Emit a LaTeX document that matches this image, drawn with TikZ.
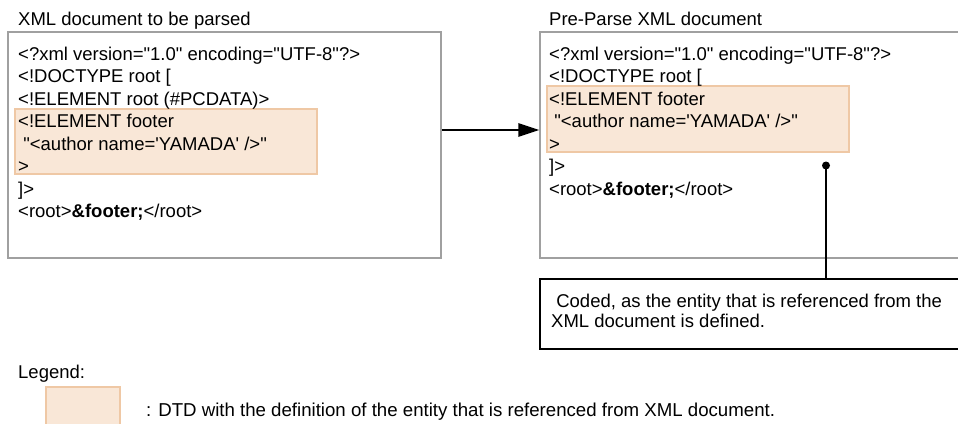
\documentclass[tikz,border=0pt]{standalone}
\usepackage{fontspec}
\newfontfamily\af{Liberation Sans}
\usetikzlibrary{arrows.meta}
\definecolor{boxgray}{RGB}{160,160,160}
\definecolor{dtdfill}{RGB}{249,231,215}
\definecolor{dtdline}{RGB}{239,200,165}
\begin{document}
\begin{tikzpicture}[x=1pt,y=-1pt,
  txt/.style={anchor=base west,inner sep=0pt,font=\af\fontsize{18.5}{22}\selectfont},
  docbox/.style={draw=boxgray,line width=1.5pt,fill=white,rectangle,inner sep=0pt},
  dtdbox/.style={draw=dtdline,line width=1.2pt,fill=dtdfill,rectangle,inner sep=0pt},
  notebox/.style={draw=black,line width=1.3pt,fill=white,rectangle,inner sep=0pt}]
\useasboundingbox (0,0) rectangle (958,423);
\clip (0,0) rectangle (958,423);
% titles
\node[txt] (t1) at (18,25) {XML document to be parsed};
\node[txt] (t2) at (549,25) {Pre-Parse XML document};
% document boxes
\node[docbox,minimum width=433pt,minimum height=226pt] (lbox) at (224.5,145) {};
\node[docbox,minimum width=422pt,minimum height=226pt] (rbox) at (751,145) {};
% DTD highlight boxes
\node[dtdbox,minimum width=302pt,minimum height=65pt] (ldtd) at (166,141.5) {};
\node[dtdbox,minimum width=302pt,minimum height=66pt] (rdtd) at (698,119) {};
% left document text
\node[txt] (a1) at (18,60) {<?xml version="1.0" encoding="UTF-8"?>};
\node[txt] (a2) at (18,82.5) {<!DOCTYPE root [};
\node[txt] (a3) at (18,105) {<!ELEMENT root (\#PCDATA)>};
\node[txt] (a4) at (18,127.5) {<!ELEMENT footer};
\node[txt] (a5) at (18,150) {\ "<author name='YAMADA' />"};
\node[txt] (a6) at (18,172.5) {>};
\node[txt] (a7) at (18,195) {]>};
\node[txt] (a8) at (18,217.5) {<root>\textbf{\&footer;}</root>};
% right document text
\node[txt] (b1) at (549,60) {<?xml version="1.0" encoding="UTF-8"?>};
\node[txt] (b2) at (549,82.5) {<!DOCTYPE root [};
\node[txt] (b3) at (549,105) {<!ELEMENT footer};
\node[txt] (b4) at (549,127.5) {\ "<author name='YAMADA' />"};
\node[txt] (b5) at (549,150) {>};
\node[txt] (b6) at (549,172.5) {]>};
\node[txt] (b7) at (549,195) {<root>\textbf{\&footer;}</root>};
% arrow between documents
\draw[line width=1.5pt,-{Triangle[length=21pt,width=13.5pt]}] (lbox.east |- 0,130) -- (rbox.west |- 0,130);
% callout
\node[notebox,minimum width=422pt,minimum height=70pt] (note) at (751,314) {};
\node[txt] (n1) at (551,307.3) {\ Coded, as the entity that is referenced from the};
\node[txt] (n2) at (551,327) {XML document is defined.};
\coordinate (dot) at (826,165.5);
\fill (dot) circle (4pt);
\draw[line width=1.8pt] (dot) -- (note.north -| dot);
% legend
\node[txt] (leg) at (18,378.3) {Legend:};
\node[dtdbox,minimum width=74pt,minimum height=50pt] (legsw) at (83,412) {};
\node[txt,font=\af\fontsize{18.65}{22}\selectfont] (legtxt) at (146,416.7) {: DTD with the definition of the entity that is referenced from XML document.};
\end{tikzpicture}
\end{document}
